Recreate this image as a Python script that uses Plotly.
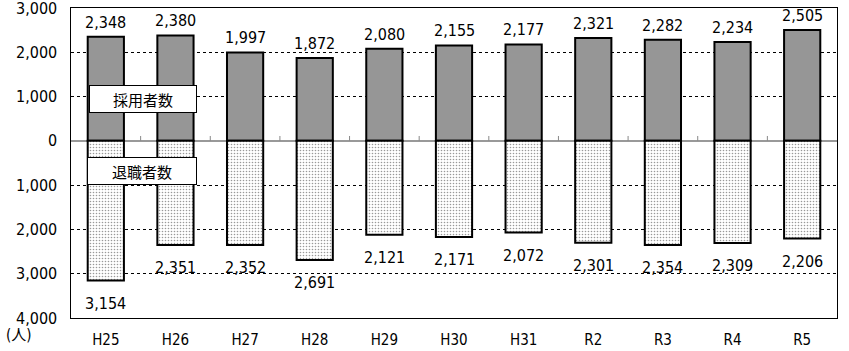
import plotly.graph_objects as go

categories = ["H25", "H26", "H27", "H28", "H29", "H30", "H31", "R2", "R3", "R4", "R5"]
hired = [2348, 2380, 1997, 1872, 2080, 2155, 2177, 2321, 2282, 2234, 2505]
retired = [3154, 2351, 2352, 2691, 2121, 2171, 2072, 2301, 2354, 2309, 2206]
y_ticks = [3000, 2000, 1000, 0, -1000, -2000, -3000, -4000]
y_tick_labels = ["3,000", "2,000", "1,000", "0", "1,000", "2,000", "3,000", "4,000"]

NUM_FONT = "DejaVu Sans Condensed, Noto Sans CJK JP"
JP_FONT = "Noto Sans CJK JP"

fig = go.Figure()
fig.add_trace(go.Bar(
    x=categories, y=hired, width=0.52,
    marker=dict(color="#969696", line=dict(color="black", width=2)),
    hoverinfo="skip", showlegend=False,
))
fig.add_trace(go.Bar(
    x=categories, y=[-v for v in retired], width=0.52,
    marker=dict(color="white", line=dict(color="black", width=2),
                pattern=dict(shape=".", fgcolor="#333333", bgcolor="white", size=3, solidity=0.22)),
    hoverinfo="skip", showlegend=False,
))

annotations = []
for c, v in zip(categories, hired):
    annotations.append(dict(x=c, y=v, text=f"{v:,}", showarrow=False, yanchor="bottom",
                            yshift=3, font=dict(family=NUM_FONT, size=16, color="black")))
for c, v in zip(categories, retired):
    annotations.append(dict(x=c, y=-v, text=f"{v:,}", showarrow=False, yanchor="top",
                            yshift=-11, font=dict(family=NUM_FONT, size=16, color="black")))

# y-axis tick labels
for tv, tt in zip(y_ticks, y_tick_labels):
    annotations.append(dict(xref="paper", x=0, y=tv, text=tt, showarrow=False, xanchor="right",
                            xshift=-12, font=dict(family=NUM_FONT, size=16, color="black")))

annotations.append(dict(xref="paper", x=0.094, xanchor="center", y=950, text="採用者数", showarrow=False,
                        bgcolor="white", bordercolor="black", borderwidth=1, width=104, height=24,
                        font=dict(family=JP_FONT, size=15, color="black")))
annotations.append(dict(xref="paper", x=0.093, xanchor="center", y=-690, text="退職者数", showarrow=False,
                        bgcolor="white", bordercolor="black", borderwidth=1, width=106, height=24,
                        font=dict(family=JP_FONT, size=15, color="black")))
annotations.append(dict(xref="paper", yref="paper", x=-0.068, y=-0.055, xanchor="center", yanchor="middle",
                        text="(人)", showarrow=False, font=dict(family=NUM_FONT, size=15, color="black")))

shapes = []
for i in range(len(categories) - 1):
    shapes.append(dict(type="line", xref="x", yref="y", x0=i + 0.5, x1=i + 0.5,
                       y0=0, y1=110, line=dict(color="#888888", width=1)))

fig.update_layout(
    width=849, height=351,
    margin=dict(l=71, r=12, t=8, b=33, autoexpand=False),
    plot_bgcolor="white", paper_bgcolor="white",
    barmode="overlay", bargap=0.48,
    font=dict(family=NUM_FONT, size=15, color="black"),
    annotations=annotations, shapes=shapes,
    xaxis=dict(showgrid=False, showline=True, linecolor="black", linewidth=1, mirror=True,
               ticks="", tickfont=dict(family=NUM_FONT, size=15), ticklabelstandoff=8,
               automargin=False, range=[-0.5, 10.5]),
    yaxis=dict(range=[-4000, 3000], tickvals=y_ticks, showticklabels=False,
               showgrid=True, gridcolor="black", gridwidth=1, griddash="dot",
               zeroline=True, zerolinecolor="#999999", zerolinewidth=2,
               showline=True, linecolor="black", linewidth=1, mirror=True,
               ticks="", automargin=False),
)

fig.write_html("out.html")
